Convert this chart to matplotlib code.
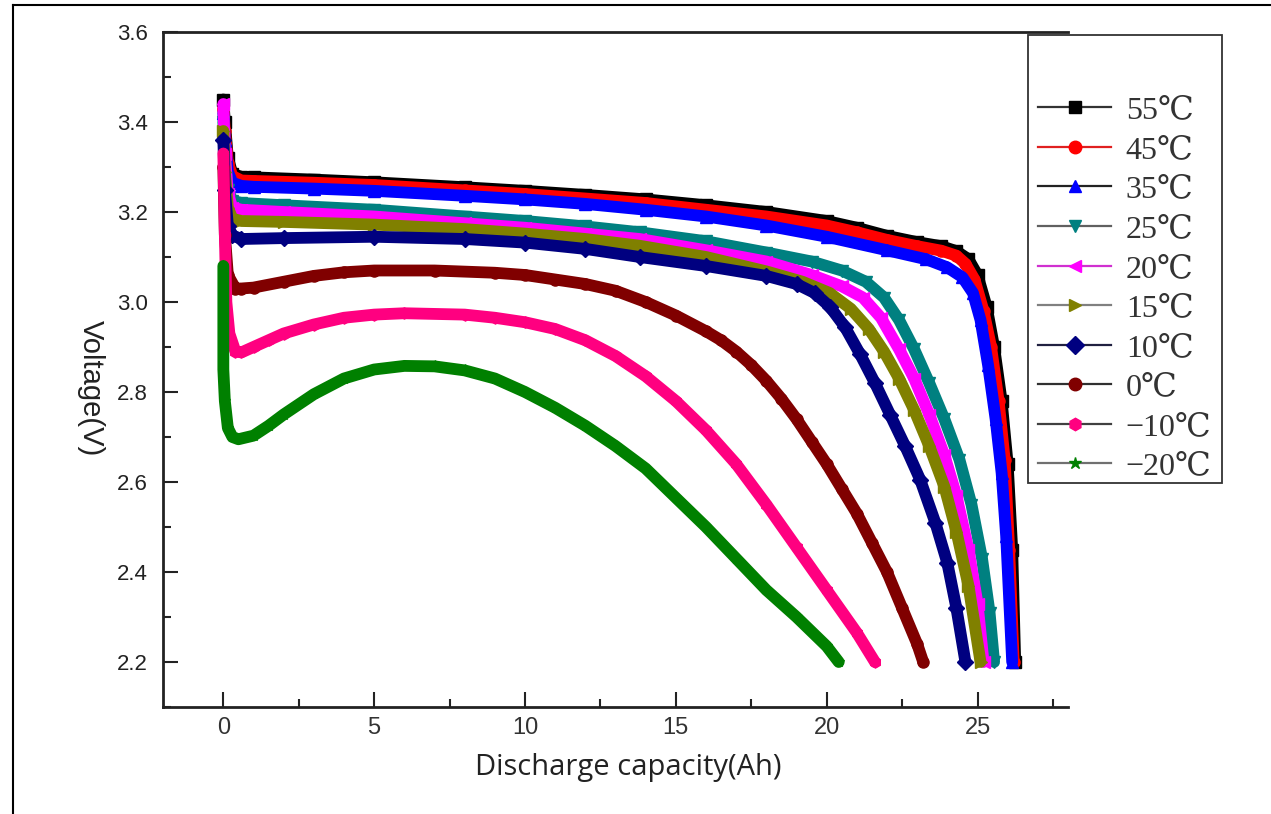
import matplotlib.pyplot as plt
from matplotlib.font_manager import FontProperties
from matplotlib.lines import Line2D
from matplotlib.patches import Rectangle
from matplotlib.ticker import MultipleLocator

plt.rcParams['font.family'] = ['Liberation Sans', 'DejaVu Sans']

labels = ['55℃', '45℃', '35℃', '25℃', '20℃', '15℃', '10℃', '0℃', '−10℃', '−20℃']
colors = ['#000000', '#ff0000', '#0000ff', '#008080', '#ff00ff',
          '#808000', '#000080', '#800000', '#ff0080', '#008000']
line_colors = ['#333333', '#e02020', '#222222', '#606060', '#d030d0',
               '#808080', '#202040', '#303030', '#404040', '#707070']
markers = ['s', 'o', '^', 'v', '<', '>', 'D', 'o', 'h', '*']

# discharge capacity (Ah) / voltage (V)
cap_55 = [0, 0.05, 0.15, 0.3, 0.6, 1, 3, 5, 8, 10, 12, 14, 16, 18, 20, 21, 22, 23, 23.8,
          24.3, 24.7, 25.0, 25.3, 25.55, 25.8, 26.0, 26.15, 26.25]
volt_55 = [3.45, 3.40, 3.32, 3.285, 3.278, 3.277, 3.272, 3.266, 3.255, 3.247, 3.238, 3.228,
           3.215, 3.20, 3.18, 3.165, 3.147, 3.133, 3.124, 3.113, 3.095, 3.06, 2.99, 2.90,
           2.78, 2.64, 2.45, 2.20]

cap_45 = [0, 0.05, 0.15, 0.3, 0.6, 1, 3, 5, 8, 10, 12, 14, 16, 18, 20, 21, 22, 23, 23.8,
          24.3, 24.6, 24.9, 25.2, 25.45, 25.7, 25.9, 26.05, 26.2]
volt_45 = [3.43, 3.38, 3.31, 3.28, 3.27, 3.269, 3.265, 3.26, 3.248, 3.24, 3.23, 3.22,
           3.205, 3.19, 3.17, 3.155, 3.138, 3.124, 3.114, 3.103, 3.085, 3.05, 2.98, 2.90,
           2.78, 2.65, 2.45, 2.20]

cap_35 = [0, 0.05, 0.15, 0.3, 0.6, 1, 3, 5, 8, 10, 12, 14, 16, 18, 20, 22, 23.3, 24.0,
          24.5, 24.85, 25.1, 25.35, 25.6, 25.8, 25.95, 26.15]
volt_35 = [3.42, 3.36, 3.29, 3.265, 3.258, 3.256, 3.252, 3.247, 3.236, 3.228, 3.218, 3.205,
           3.19, 3.17, 3.145, 3.115, 3.095, 3.077, 3.055, 3.02, 2.96, 2.86, 2.74, 2.62,
           2.48, 2.20]

cap_25 = [0, 0.05, 0.15, 0.3, 0.6, 2, 5, 8, 10, 12, 13.8, 16, 18, 19.5, 20.5, 21.3, 21.9,
          22.4, 22.9, 23.4, 23.9, 24.4, 24.8, 25.15, 25.4, 25.55]
volt_25 = [3.40, 3.33, 3.25, 3.225, 3.22, 3.215, 3.205, 3.19, 3.18, 3.168, 3.155, 3.135,
           3.11, 3.09, 3.07, 3.045, 3.01, 2.96, 2.895, 2.82, 2.74, 2.65, 2.55, 2.43, 2.31,
           2.20]

cap_20 = [0, 0.05, 0.15, 0.3, 0.6, 2, 5, 8, 10, 12, 13.8, 16, 18, 19.5, 20.5, 21.2, 21.8,
          22.4, 22.9, 23.4, 23.9, 24.3, 24.7, 25.0, 25.2]
volt_20 = [3.44, 3.33, 3.24, 3.21, 3.205, 3.20, 3.19, 3.175, 3.165, 3.152, 3.14, 3.115,
           3.09, 3.06, 3.035, 3.01, 2.965, 2.895, 2.83, 2.75, 2.66, 2.57, 2.45, 2.33, 2.20]

cap_15 = [0, 0.05, 0.15, 0.3, 0.6, 2, 5, 8, 10, 12, 13.8, 16, 18, 19.2, 20.1, 20.8, 21.4,
          21.9, 22.4, 22.9, 23.4, 23.9, 24.3, 24.7, 25.1]
volt_15 = [3.38, 3.29, 3.21, 3.185, 3.18, 3.178, 3.172, 3.162, 3.152, 3.14, 3.125, 3.10,
           3.068, 3.045, 3.02, 2.985, 2.94, 2.89, 2.83, 2.76, 2.68, 2.59, 2.49, 2.37, 2.20]

cap_10 = [0, 0.05, 0.15, 0.3, 0.6, 2, 5, 8, 10, 12, 13.8, 16, 18, 19, 19.6, 20.1, 20.6,
          21.1, 21.6, 22.1, 22.6, 23.1, 23.6, 24.0, 24.3, 24.6]
volt_10 = [3.36, 3.25, 3.17, 3.148, 3.14, 3.142, 3.145, 3.14, 3.132, 3.118, 3.10, 3.08,
           3.058, 3.04, 3.02, 2.99, 2.945, 2.885, 2.82, 2.75, 2.68, 2.605, 2.51, 2.42,
           2.32, 2.20]

cap_0 = [0, 0.05, 0.15, 0.4, 0.6, 1, 2, 3, 4, 5, 7, 9, 10, 11, 12, 13, 14, 15, 16, 16.5,
         17, 17.5, 18, 18.5, 19, 19.5, 20, 20.5, 21, 21.5, 22, 22.5, 23, 23.2]
volt_0 = [3.30, 3.15, 3.06, 3.03, 3.03, 3.032, 3.045, 3.058, 3.066, 3.07, 3.07, 3.065,
          3.06, 3.05, 3.04, 3.025, 3.0, 2.97, 2.935, 2.915, 2.89, 2.86, 2.825, 2.785, 2.74,
          2.69, 2.64, 2.585, 2.53, 2.465, 2.40, 2.32, 2.24, 2.20]

cap_m10 = [0, 0.05, 0.1, 0.2, 0.4, 0.6, 1, 1.5, 2, 3, 4, 5, 6, 8, 9, 10, 11, 12, 13, 14,
           15, 16, 17, 18, 19, 20, 21, 21.6]
volt_m10 = [3.33, 3.15, 3.0, 2.93, 2.89, 2.888, 2.90, 2.915, 2.93, 2.95, 2.965, 2.972,
            2.975, 2.972, 2.965, 2.955, 2.94, 2.915, 2.88, 2.835, 2.78, 2.715, 2.64, 2.55,
            2.455, 2.36, 2.265, 2.20]

cap_m20 = [0, 0, 0, 0.05, 0.15, 0.3, 0.5, 1, 1.5, 2, 3, 4, 5, 6, 7, 8, 9, 10, 11, 12, 13,
           14, 15, 16, 17, 18, 19, 20, 20.4]
volt_m20 = [3.08, 2.92, 2.85, 2.78, 2.72, 2.70, 2.695, 2.703, 2.725, 2.75, 2.795, 2.83,
            2.85, 2.858, 2.857, 2.848, 2.83, 2.80, 2.765, 2.725, 2.68, 2.63, 2.565, 2.50,
            2.43, 2.36, 2.30, 2.235, 2.20]

caps = [cap_55, cap_45, cap_35, cap_25, cap_20, cap_15, cap_10, cap_0, cap_m10, cap_m20]
volts = [volt_55, volt_45, volt_35, volt_25, volt_20, volt_15, volt_10, volt_0, volt_m10, volt_m20]

W, H = 1271, 814
fig = plt.figure(figsize=(W / 100, H / 100), dpi=100)
ax = fig.add_axes([163 / W, 1 - 707 / H, (1068 - 163) / W, (707 - 32) / H])

for cap, volt, c, m in zip(caps, volts, colors, markers):
    ax.plot(cap, volt, color=c, lw=8.5, marker=m, ms=8, mec=c, mfc=c,
            solid_joinstyle='round', solid_capstyle='round')

ax.set_xlim(-2, 28)
ax.set_ylim(2.1, 3.6)
ax.xaxis.set_major_locator(MultipleLocator(5))
ax.xaxis.set_minor_locator(MultipleLocator(2.5))
ax.yaxis.set_major_locator(MultipleLocator(0.2))
ax.yaxis.set_minor_locator(MultipleLocator(0.1))
ax.yaxis.set_major_formatter(plt.FormatStrFormatter('%.1f'))
ax.tick_params(which='both', direction='in', width=1.5, labelsize=16, pad=11, colors='#222222')
ax.tick_params(which='major', length=11)
ax.tick_params(which='minor', length=6)
ax.tick_params(axis='x', labelcolor='#333333', labelsize=17, pad=7)
for side in ['left', 'bottom', 'top']:
    ax.spines[side].set_linewidth(2)
    ax.spines[side].set_color('#222222')
ax.spines['right'].set_visible(False)

ax.set_xlabel('Discharge capacity(Ah)', fontsize=21, family=['Open Sans', 'DejaVu Sans'],
              color='#222222', va='center')
ax.xaxis.set_label_coords(0.514, -0.089)
ax.set_ylabel('Voltage(V)', fontsize=21, rotation=-90, color='#222222',
              va='center', ha='center')
ax.yaxis.set_label_coords(-0.08, 0.473)

# legend box drawn separately (it has a wide empty top margin)
fig.add_artist(Rectangle((1028 / W, 1 - 483 / H), 194 / W, 448 / H, transform=fig.transFigure,
                         facecolor='white', edgecolor='#333333', lw=1.3, zorder=3))
handles = [Line2D([], [], color=lc, lw=1.6, marker=m, ms=9, mfc=c, mec=c)
           for lc, c, m in zip(line_colors, colors, markers)]
fig.legend(handles, labels, loc='upper left', bbox_to_anchor=(1038 / W, 1 - 96 / H),
           bbox_transform=fig.transFigure, frameon=False, borderpad=0, borderaxespad=0,
           handlelength=2.3, handletextpad=0.45, labelspacing=0.32,
           prop=FontProperties(family=['Liberation Serif', 'DejaVu Serif'], size=23),
           labelcolor='#333333')

# outer picture border (left and top only)
fig.add_artist(Line2D([13 / W, 13 / W], [0, 1 - 5 / H], transform=fig.transFigure,
                      color='black', lw=1.5))
fig.add_artist(Line2D([13 / W, 1], [1 - 5 / H, 1 - 5 / H], transform=fig.transFigure,
                      color='black', lw=1.5))

fig.savefig('out.png', dpi=100)
